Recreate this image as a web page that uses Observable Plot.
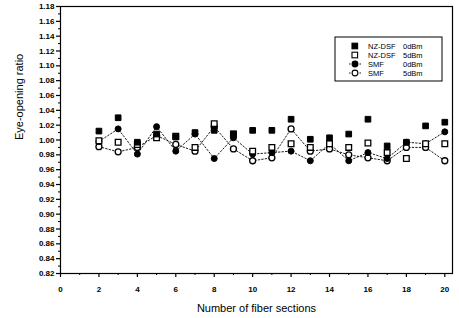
<!DOCTYPE html>
<html><head><meta charset="utf-8">
<script src="https://cdn.jsdelivr.net/npm/d3@7"></script>
<script src="https://cdn.jsdelivr.net/npm/@observablehq/plot@0.6"></script>
<style>body{margin:0;background:#fff;} svg{font-family:"Liberation Sans",Arial,sans-serif;}</style>
</head><body><div id="chart"></div>
<script>
const sections = [2,3,4,5,6,7,8,9,10,11,12,13,14,15,16,17,18,19,20];
const nzdsf0 = [1.012,1.030,0.997,1.008,1.004,1.010,1.013,1.008,1.013,1.013,1.028,1.001,1.003,1.008,1.028,0.992,0.997,1.019,1.024];
const nzdsf5 = [0.999,0.997,0.994,1.003,1.005,0.990,1.022,1.008,0.985,0.990,0.995,0.990,0.995,0.990,0.996,0.983,0.975,0.995,0.995];
const smf0   = [0.998,1.015,0.981,1.018,0.985,1.008,0.975,1.003,0.981,0.983,0.985,0.972,0.995,0.972,0.983,0.975,0.997,0.995,1.011];
const smf5   = [0.991,0.984,0.990,1.006,0.994,0.985,1.018,0.988,0.972,0.976,1.015,0.985,0.988,0.980,0.976,0.972,0.990,0.990,0.972];
const seriesNames = ["NZ-DSF 0dBm","NZ-DSF 5dBm","SMF 0dBm","SMF 5dBm"];
const seriesType = ["NZ-DSF","NZ-DSF","SMF","SMF"];
const seriesPower = ["0dBm","5dBm","0dBm","5dBm"];
const yMajor = d3.range(0,19).map(i => +(0.82 + i*0.02).toFixed(2));
const yMinor = d3.range(0,18).map(i => +(0.83 + i*0.02).toFixed(2));
const xMajor = [0,2,4,6,8,10,12,14,16,18,20];
const xMinor = [1,3,5,7,9,11,13,15,17,19];

const rows = (ys) => sections.map((s,i) => ({x:s, y:ys[i]}));
const d0 = rows(nzdsf0), d1 = rows(nzdsf5), d2 = rows(smf0), d3r = rows(smf5);

const chart = Plot.plot({
  width: 459, height: 318,
  marginLeft: 60, marginRight: 7, marginTop: 6, marginBottom: 45,
  x: {domain: [0, 20.4]},
  y: {domain: [0.82, 1.18]},
  style: {fontFamily: '"Liberation Sans",Arial,sans-serif', fontSize: "8px", color: "#000", background: "#fff"},
  marks: [
    Plot.frame({stroke: "#000", strokeWidth: 1.2}),
    Plot.axisY({ticks: yMajor, tickFormat: d3.format(".2f"), tickSize: 4, tickPadding: 2, label: null, fontWeight: "bold", strokeWidth: 1.2}),
    Plot.axisY({ticks: yMinor, tickSize: 2, text: null, label: null}),
    Plot.axisX({ticks: xMajor, tickFormat: d3.format("d"), tickSize: 4, tickPadding: 9, label: null, fontWeight: "bold", strokeWidth: 1.2}),
    Plot.axisX({ticks: xMinor, tickSize: 2, text: null, label: null}),
    Plot.line(d2, {x: "x", y: "y", stroke: "#000", strokeWidth: 0.9, strokeDasharray: "1.5,2"}),
    Plot.line(d3r, {x: "x", y: "y", stroke: "#000", strokeWidth: 0.9, strokeDasharray: "1.5,2"}),
    Plot.dot(d3r, {x: "x", y: "y", symbol: "circle", r: 3, fill: "#fff", stroke: "#000", strokeWidth: 1.3}),
    Plot.dot(d2, {x: "x", y: "y", symbol: "circle", r: 3, fill: "#000", stroke: "#000", strokeWidth: 1}),
    Plot.dot(d1, {x: "x", y: "y", symbol: "square", r: 3.2, fill: "#fff", stroke: "#000", strokeWidth: 1.3}),
    Plot.dot(d0, {x: "x", y: "y", symbol: "square", r: 3.2, fill: "#000", stroke: "#000", strokeWidth: 1}),
    Plot.text(["Eye-opening ratio"], {frameAnchor: "left", dx: -41, rotate: -90, fontSize: 11, fill: "#000"}),
    Plot.text(["Number of fiber sections"], {frameAnchor: "bottom", dy: 38, fontSize: 11, fill: "#000"})
  ]
});
document.getElementById("chart").appendChild(chart);

// legend
const svg = d3.select(chart);
const lg = svg.append("g").attr("transform", "translate(335,37)").attr("text-anchor", "start");
lg.append("rect").attr("width", 107).attr("height", 44).attr("fill", "#fff").attr("stroke", "#000").attr("stroke-width", 1);
seriesNames.forEach((name, i) => {
  const g = lg.append("g").attr("transform", `translate(0,${9 + i*9})`);
  const filled = i % 2 === 0;
  if (i >= 2) g.append("line").attr("x1", 14).attr("x2", 26).attr("stroke", "#000").attr("stroke-width", 0.9).attr("stroke-dasharray", "1.5,2");
  if (i < 2) g.append("rect").attr("x", 17).attr("y", -2.8).attr("width", 5.6).attr("height", 5.6)
      .attr("fill", filled ? "#000" : "#fff").attr("stroke", "#000").attr("stroke-width", 1.1);
  else g.append("circle").attr("cx", 20).attr("r", 2.9)
      .attr("fill", filled ? "#000" : "#fff").attr("stroke", "#000").attr("stroke-width", 1.1);
  g.append("text").attr("x", 33).attr("dy", "0.35em").attr("font-size", 7.5).attr("text-anchor", "start").text(seriesType[i]);
  g.append("text").attr("x", 68).attr("dy", "0.35em").attr("font-size", 7.5).attr("text-anchor", "start").text(seriesPower[i]);
});
</script></body></html>
